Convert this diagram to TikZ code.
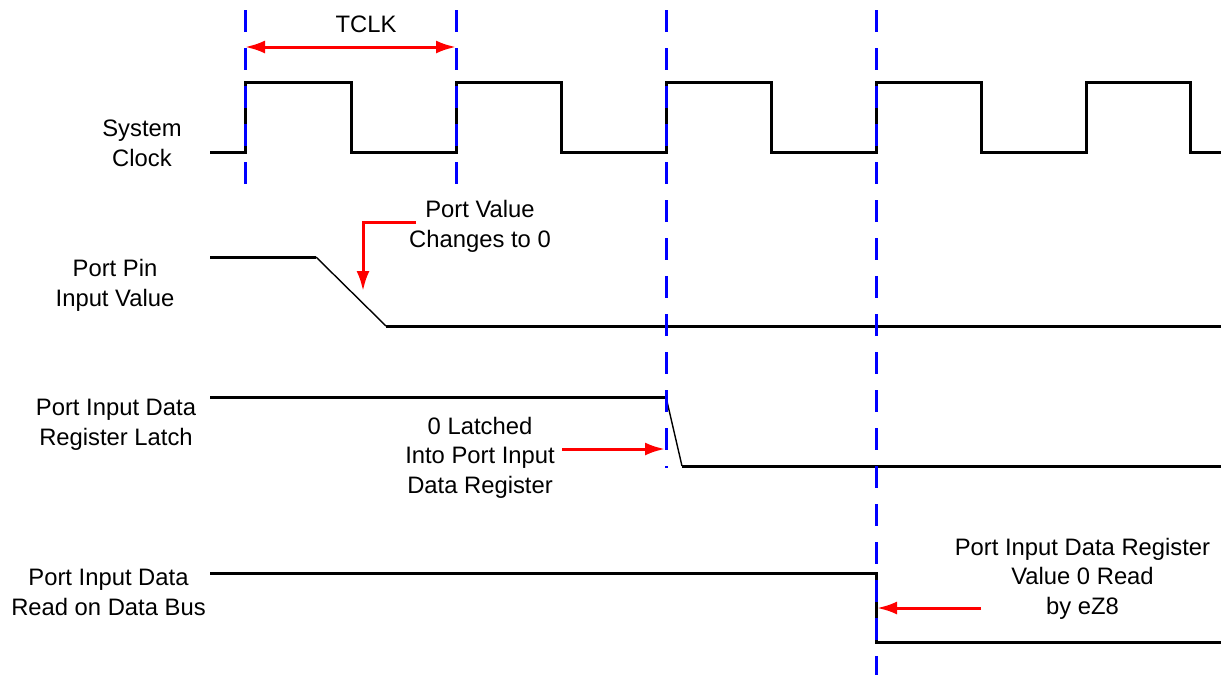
\documentclass[tikz,border=0pt]{standalone}
\usepackage{fontspec}
\setmainfont{Liberation Sans}
\usetikzlibrary{arrows.meta}
\begin{document}
\begin{tikzpicture}[x=0.5pt,y=-0.5pt,
  sig/.style={line width=1.5pt, line join=miter},
  slope/.style={line width=0.7pt},
  guide/.style={blue, line width=1.5pt, dash pattern=on 11pt off 8pt},
  redarr/.style={red, line width=1.5pt, -{Latex[length=10pt,width=6.5pt]}},
  tclkarr/.style={red, line width=1.5pt, {Latex[length=10pt,width=6.5pt]}-{Latex[length=10pt,width=6.5pt]}},
  lbl/.style={align=center, font=\fontsize{11.9}{14.6}\selectfont, inner sep=0pt, anchor=base}]
\useasboundingbox (0,0) rectangle (1221,675);
% system clock
\draw[sig] (210,152) -- (245,152) -- (245,82) -- (351,82) -- (351,152) -- (456,152) -- (456,82) -- (561,82) -- (561,152) -- (666,152) -- (666,82) -- (771,82) -- (771,152) -- (876,152) -- (876,82) -- (981,82) -- (981,152) -- (1086,152) -- (1086,82) -- (1190,82) -- (1190,152) -- (1221,152);
% port pin input value
\draw[sig] (210,257) -- (316,257);
\draw[slope] (316,257) -- (386,326);
\draw[sig] (386,326) -- (1221,326);
% port input data register latch
\draw[sig] (210,397) -- (666,397);
\draw[slope] (666,397) -- (682,466);
\draw[sig] (682,466) -- (1221,466);
% port input data read on data bus
\draw[sig] (210,573) -- (876,573) -- (876,642) -- (1221,642);
% guides
\coordinate (g1t) at (245,10); \coordinate (g1b) at (245,188);
\coordinate (g2t) at (456,10); \coordinate (g2b) at (456,188);
\coordinate (g3t) at (666,10); \coordinate (g3b) at (666,468);
\coordinate (g4t) at (876,10); \coordinate (g4b) at (876,675);
\draw[guide] (g1t) -- (g1b);
\draw[guide] (g2t) -- (g2b);
\draw[guide] (g3t) -- (g3b);
\draw[guide] (g4t) -- (g4b);
% TCLK
\coordinate (tl) at (245,47); \coordinate (tr) at (456,47);
\draw[tclkarr] (tl) -- (tr);
\node[lbl] (tclk) at (366,32) {TCLK};
% labels (base anchor = baseline of last line)
\node[lbl] (clk) at (142,166) {System\\Clock};
\node[lbl] (pin) at (115,306) {Port Pin\\Input Value};
\node[lbl] (chg) at (480,247) {Port Value\\Changes to 0};
\node[lbl] (latch) at (116,445) {Port Input Data\\Register Latch};
\node[lbl] (latched) at (480,493) {0 Latched\\Into Port Input\\Data Register};
\node[lbl] (bus) at (108.5,615) {Port Input Data\\Read on Data Bus};
\node[lbl] (read) at (1082.5,614) {Port Input Data Register\\Value 0 Read\\by eZ8};
% red arrows
\coordinate (a1s) at (416,222); \coordinate (a1e) at (363,291);
\draw[redarr] (a1s) -| (a1e);
\coordinate (a2s) at (562,449); \coordinate (a2e) at (665,449);
\draw[redarr] (a2s) -- (a2e);
\coordinate (a3s) at (981,608); \coordinate (a3e) at (877,608);
\draw[redarr] (a3s) -- (a3e);
\end{tikzpicture}
\end{document}
